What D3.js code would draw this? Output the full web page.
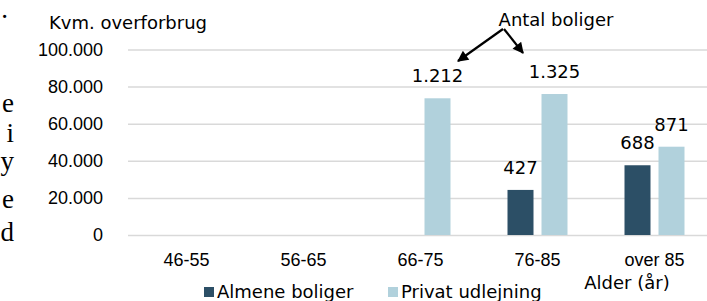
<!DOCTYPE html>
<html>
<head>
<meta charset="utf-8">
<script src="https://cdn.jsdelivr.net/npm/d3@7"></script>
<style>
  body { margin: 0; background: #fff; }
  svg { display: block; font-family: "DejaVu Sans", Verdana, sans-serif; }
</style>
</head>
<body>
<svg width="707" height="301"></svg>
<script>
var categories = ["46-55", "56-65", "66-75", "76-85", "over 85"],
    series = ["Almene boliger", "Privat udlejning"],
    almene = [null, null, null, 24300, 37600],       // kvm. overforbrug
    privat = [null, null, 73700, 76000, 47600],
    almeneAntal = [null, null, null, 427, 688],      // antal boliger
    privatAntal = [null, null, 1212, 1325, 871],
    yTicks = [0, 20000, 40000, 60000, 80000, 100000],
    colors = ["#2c4f66", "#b1d1dc"];

var svg = d3.select("svg"),
    width = +svg.attr("width"),
    height = +svg.attr("height");

var locale = d3.formatLocale({decimal: ",", thousands: ".", grouping: [3], currency: ["", ""]}),
    fmt = locale.format(",d");

var x = d3.scaleBand().domain(categories).range([128, 713]),
    x1 = d3.scaleBand().domain(series).range([28.5, 88.5]).paddingInner(8 / 34),
    y = d3.scaleLinear().domain([0, 100000]).range([235, 49.5]),
    color = d3.scaleOrdinal().domain(series).range(colors);

// bits of the surrounding document text, cut off at the left edge
var sideText = [[".", 18], ["e", 112], ["i", 142], ["y", 170], ["e", 208], ["d", 241]];
svg.append("g")
    .attr("font-family", "'Liberation Serif', 'Times New Roman', serif")
    .attr("font-size", 27)
    .attr("text-anchor", "end")
  .selectAll("text")
  .data(sideText)
  .enter().append("text")
    .attr("x", function(d) { return d[0] == "." ? 8 : 14; })
    .attr("y", function(d) { return d[1]; })
    .text(function(d) { return d[0]; });

// gridlines + y axis
var yAxis = svg.append("g")
    .attr("transform", "translate(128,0)")
    .call(d3.axisLeft(y).tickValues(yTicks).tickFormat(fmt).tickSize(-(width - 128)).tickPadding(25));
yAxis.select(".domain").remove();
yAxis.selectAll(".tick line").attr("stroke", "#d9d9d9").attr("stroke-width", 1.5);
yAxis.selectAll(".tick text").attr("font-size", 18).attr("fill", "#000").attr("font-family", null);

svg.append("text")
    .attr("x", 49).attr("y", 29)
    .attr("font-size", 18)
    .text("Kvm. overforbrug");

// x labels
var xAxis = svg.append("g")
    .attr("transform", "translate(0,235)")
    .call(d3.axisBottom(x).tickSize(0).tickPadding(18));
xAxis.select(".domain").remove();
xAxis.selectAll(".tick text").attr("font-size", 18).attr("fill", "#000").attr("font-family", null);

svg.append("text")
    .attr("x", 627).attr("y", 289)
    .attr("text-anchor", "middle")
    .attr("font-size", 18)
    .text("Alder (år)");

// bars
var rows = categories.map(function(c, i) {
  return [
    {cat: c, key: series[0], value: almene[i], antal: almeneAntal[i]},
    {cat: c, key: series[1], value: privat[i], antal: privatAntal[i]}
  ];
});

var group = svg.append("g").selectAll("g")
  .data(rows)
  .enter().append("g")
    .attr("transform", function(d) { return "translate(" + x(d[0].cat) + ",0)"; });

group.selectAll("rect")
  .data(function(d) { return d.filter(function(e) { return e.value != null; }); })
  .enter().append("rect")
    .attr("x", function(d) { return x1(d.key); })
    .attr("y", function(d) { return y(d.value); })
    .attr("width", x1.bandwidth())
    .attr("height", function(d) { return y(0) - y(d.value); })
    .attr("fill", function(d) { return color(d.key); });

group.selectAll("text")
  .data(function(d) { return d.filter(function(e) { return e.antal != null; }); })
  .enter().append("text")
    .attr("x", function(d) { return x1(d.key) + x1.bandwidth() / 2; })
    .attr("y", function(d) { return y(d.value) - 16; })
    .attr("text-anchor", "middle")
    .attr("font-size", 18)
    .text(function(d) { return fmt(d.antal); });

// annotation
svg.append("defs").append("marker")
    .attr("id", "head")
    .attr("viewBox", "0 0 10 10")
    .attr("refX", 9).attr("refY", 5)
    .attr("markerWidth", 6).attr("markerHeight", 5)
    .attr("markerUnits", "strokeWidth")
    .attr("orient", "auto")
  .append("path")
    .attr("d", "M0,0L10,5L0,10z")
    .attr("fill", "#000");

svg.append("text")
    .attr("x", 556).attr("y", 26)
    .attr("text-anchor", "middle")
    .attr("font-size", 18)
    .text("Antal boliger");

var arrows = [[503, 29, 458, 61], [504, 29, 523, 53]];
svg.append("g").selectAll("line")
  .data(arrows)
  .enter().append("line")
    .attr("x1", function(d) { return d[0]; })
    .attr("y1", function(d) { return d[1]; })
    .attr("x2", function(d) { return d[2]; })
    .attr("y2", function(d) { return d[3]; })
    .attr("stroke", "#000")
    .attr("stroke-width", 2.2)
    .attr("marker-end", "url(#head)");

// legend
var legendX = [204, 388];
var legend = svg.append("g").selectAll("g")
  .data(series)
  .enter().append("g")
    .attr("transform", function(d, i) { return "translate(" + legendX[i] + ",287)"; });
legend.append("rect")
    .attr("width", 10).attr("height", 10)
    .attr("fill", function(d) { return color(d); });
legend.append("text")
    .attr("x", 13).attr("y", 11)
    .attr("font-size", 18)
    .text(function(d) { return d; });
</script>
</body>
</html>
